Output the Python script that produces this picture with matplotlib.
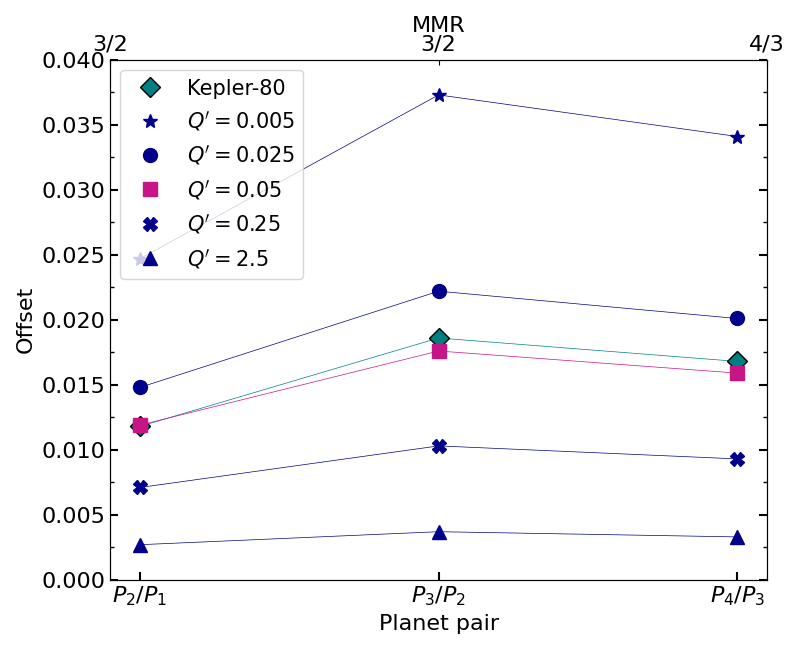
import numpy as np
from matplotlib import pyplot as plt
from matplotlib.ticker import AutoMinorLocator

pairs = ["$P_2/P_1$", "$P_3/P_2$", "$P_4/P_3$"]
mmr = ["3/2", "3/2", "4/3"]

kepler80 = [0.0118, 0.0186, 0.0168]
q_0005 = [0.0247, 0.0373, 0.0341]
q_0025 = [0.0148, 0.0222, 0.0201]
q_005 = [0.0119, 0.0176, 0.0159]
q_025 = [0.0071, 0.0103, 0.0093]
q_25 = [0.0027, 0.0037, 0.0033]

plt.rcParams['font.size'] = 16

fig, ax = plt.subplots(figsize=(8, 6.5), dpi=100)
x = np.arange(len(pairs))

series = [
    (kepler80, "D", "teal", "Kepler-80"),
    (q_0005, "*", "darkblue", r"$Q' = 0.005$"),
    (q_0025, "o", "darkblue", r"$Q' = 0.025$"),
    (q_005, "s", "mediumvioletred", r"$Q' = 0.05$"),
    (q_025, "X", "darkblue", r"$Q' = 0.25$"),
    (q_25, "^", "darkblue", r"$Q' = 2.5$"),
]
for vals, m, c, lab in series:
    ax.plot(x, vals, "-", color=c, lw=0.5)
    if m == "D":
        ax.plot(x, vals, m, color=c, mec="black", ms=10, label=lab, ls="none")
    else:
        ax.plot(x, vals, m, color=c, ms=10, label=lab, ls="none")

ax.set_ylim(0, 0.04)
ax.set_xticks(x)
ax.set_xticklabels(pairs)
ax.set_xlabel("Planet pair")
ax.set_ylabel("Offset")
ax.yaxis.set_minor_locator(AutoMinorLocator(2))
ax.tick_params(direction="in", which="both", top=True, right=True)
ax.tick_params(which="major", length=6, width=1.5)
ax.tick_params(which="minor", length=3, width=1)
ax.legend(loc="upper left", fontsize=15)

top = ax.twiny()
top.set_xticks(x)
top.set_xticklabels(mmr)
top.set_xlabel("MMR", labelpad=2)
top.tick_params(direction="in")

fig.subplots_adjust(left=0.1375, right=0.959, top=0.908, bottom=0.108)
fig.savefig("out.png")
